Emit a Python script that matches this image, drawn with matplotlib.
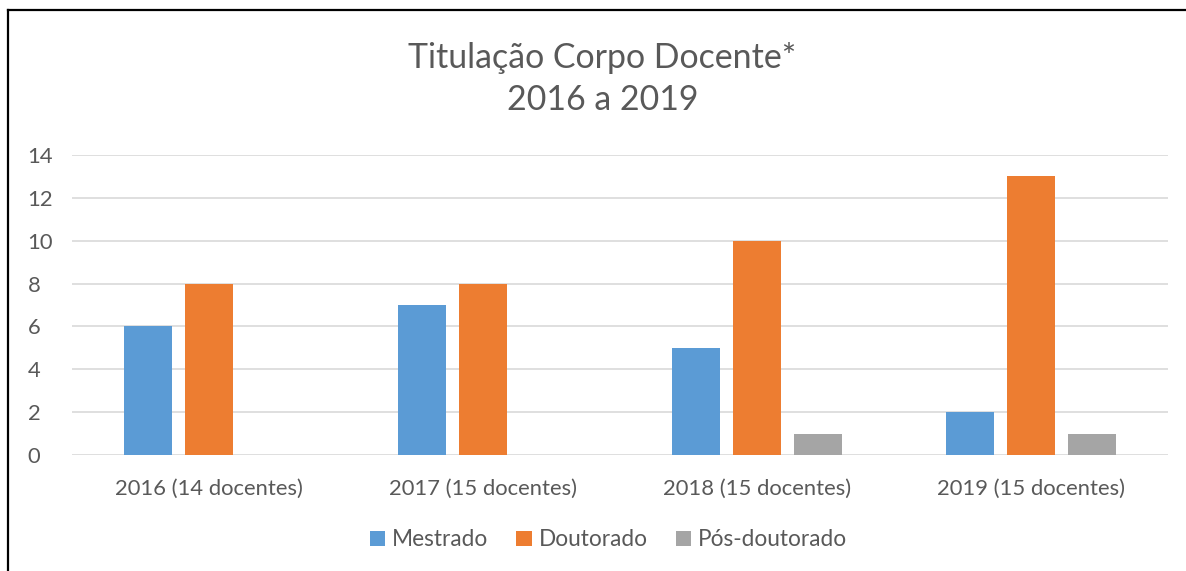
import matplotlib.pyplot as plt
from matplotlib.lines import Line2D
import numpy as np

plt.rcParams['font.family'] = ['Lato', 'DejaVu Sans']

categories = ['2016 (14 docentes)', '2017 (15 docentes)', '2018 (15 docentes)', '2019 (15 docentes)']
mestrado = [6, 7, 5, 2]
doutorado = [8, 8, 10, 13]
pos_doutorado = [0, 0, 1, 1]
series_names = ['Mestrado', 'Doutorado', 'Pós-doutorado']
colors = ['#5B9BD5', '#ED7D31', '#A5A5A5']
text_color = '#595959'

W, H = 1186, 571
fig = plt.figure(figsize=(W / 100, H / 100), dpi=100)

# chart frame (cropped at right and bottom)
fig.add_artist(Line2D([8 / W, 8 / W], [0, 1 - 10 / H], color='black', lw=1.6))
fig.add_artist(Line2D([8 / W, 1], [1 - 10 / H, 1 - 10 / H], color='black', lw=1.6))

ax = fig.add_axes([72 / W, (H - 455) / H, 1096 / W, 300 / H])

x = np.arange(len(categories))
off = 0.2226
width = 0.175
for i, vals in enumerate([mestrado, doutorado, pos_doutorado]):
    ax.bar(x + (i - 1) * off, vals, width, color=colors[i], label=series_names[i], zorder=3)

ax.set_xlim(-0.5, 3.5)
ax.set_ylim(0, 14)
ax.set_yticks(range(0, 15, 2))
ax.grid(axis='y', color='#D9D9D9', lw=1.2, zorder=0)
ax.set_xticks(x)
ax.set_xticklabels(categories)
for s in ['top', 'right', 'left', 'bottom']:
    ax.spines[s].set_visible(False)
ax.tick_params(axis='both', length=0, labelsize=15.8, colors=text_color)
ax.tick_params(axis='x', pad=17)
ax.tick_params(axis='y', pad=32)
for lbl in ax.get_yticklabels():
    lbl.set_horizontalalignment('left')

fig.text(0.508, 1 - 79 / H, 'Titulação Corpo Docente*\n2016 a 2019', ha='center', va='center',
         fontsize=24.4, color=text_color, linespacing=1.38)

leg = fig.legend(loc='center', bbox_to_anchor=(0.513, 1 - 540 / H), ncol=3, frameon=False,
                 fontsize=16.3, handlelength=0.68, handleheight=0.68, handletextpad=0.3,
                 columnspacing=1.25)
for t in leg.get_texts():
    t.set_color(text_color)

fig.savefig('out.png', dpi=100)
